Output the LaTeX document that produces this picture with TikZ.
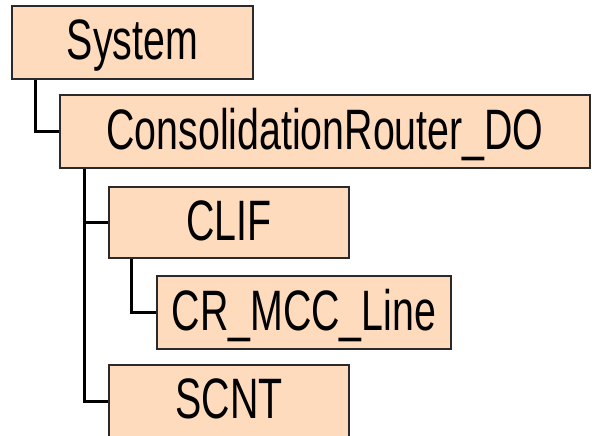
\documentclass[tikz,border=0pt]{standalone}
\usepackage{fontspec}
\setmainfont{Liberation Sans}
\usetikzlibrary{calc}
\definecolor{boxfill}{HTML}{FFDBBD}
\definecolor{boxline}{HTML}{2A2A2A}
\newcommand{\lbl}[1]{\scalebox{0.69}[1]{#1}}
\tikzset{
  box/.style={draw=boxline, line width=2pt, fill=boxfill, rectangle, inner sep=0pt,
    minimum height=72pt, text height=40pt, text depth=5pt,
    font=\fontsize{57}{60}\selectfont},
  conn/.style={draw=black, line width=3pt}
}
\begin{document}
\begin{tikzpicture}[x=1pt,y=-1pt]
\useasboundingbox (0,0) rectangle (592,436);
\clip (0,0) rectangle (592,436);
\fill[white] (0,0) rectangle (592,436);
\node[box, minimum width=241pt, minimum height=73pt] (sys) at (132.5,42.5) {\lbl{System}};
\node[box, minimum width=530pt, minimum height=73pt] (crdo) at (325,131.5) {\lbl{ConsolidationRouter\_DO}};
\node[box, minimum width=240pt, minimum height=71pt] (clif) at (229,222.5) {\lbl{CLIF}};
\node[box, minimum width=294pt, minimum height=73pt] (mcc) at (304,312.5) {\lbl{CR\_MCC\_Line}};
\node[box, minimum width=240pt, minimum height=72pt] (scnt) at (229,401) {\lbl{SCNT}};
\draw[conn] ($(sys.south west)+(24,0)$) |- (crdo.west);
\draw[conn] ($(crdo.south west)+(25,0)$) |- (clif.west);
\draw[conn] ($(crdo.south west)+(25,0)$) |- (scnt.west);
\draw[conn] ($(clif.south west)+(23,0)$) |- (mcc.west);
\end{tikzpicture}
\end{document}
